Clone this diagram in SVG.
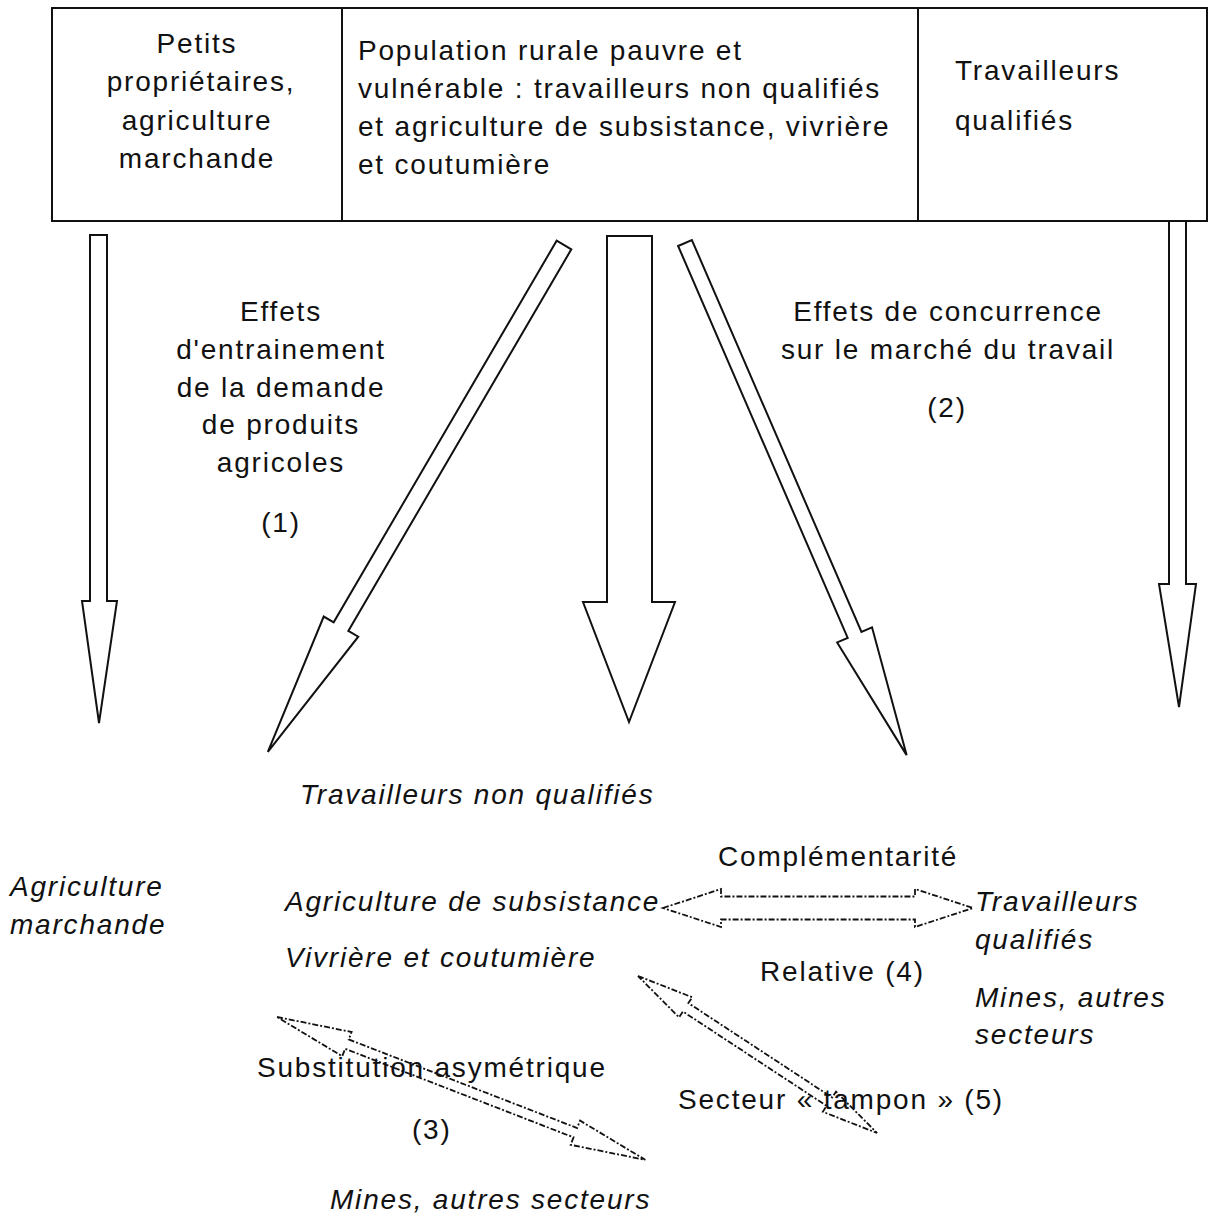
<svg xmlns="http://www.w3.org/2000/svg" width="1210" height="1222" viewBox="0 0 1210 1222">
  <style>
    .t { font-family: "Liberation Sans", Arial, sans-serif; font-size: 28px; letter-spacing: 1.8px; fill: #111; }
    .i { font-style: italic; }
    .m { text-anchor: middle; }
    .cell { fill: #fff; stroke: #111; stroke-width: 2; }
    .blk { fill: #fff; stroke: #111; stroke-width: 2; stroke-linejoin: miter; }
    .dbl { fill: none; stroke: #111; stroke-width: 1.8; stroke-dasharray: 6 2 2 2; }
  </style>
  <rect width="1210" height="1222" fill="#fff"/>

  <!-- header row: three population groups -->
  <g id="cell-petits">
    <rect class="cell" x="52" y="8" width="290" height="213"/>
    <text class="t m" x="197" y="53">Petits</text>
    <text class="t m" x="201" y="91">propriétaires,</text>
    <text class="t m" x="197" y="130">agriculture</text>
    <text class="t m" x="197" y="168">marchande</text>
  </g>
  <g id="cell-population">
    <rect class="cell" x="342" y="8" width="576" height="213"/>
    <text class="t" x="358" y="60">Population rurale pauvre et</text>
    <text class="t" x="358" y="98">vulnérable : travailleurs non qualifiés</text>
    <text class="t" x="358" y="136">et agriculture de subsistance, vivrière</text>
    <text class="t" x="358" y="174">et coutumière</text>
  </g>
  <g id="cell-qualifies">
    <rect class="cell" x="918" y="8" width="289" height="213"/>
    <text class="t" x="955" y="80">Travailleurs</text>
    <text class="t" x="955" y="130">qualifiés</text>
  </g>

  <!-- flows from the header to the sectors -->
  <g id="connectors">
    <polygon class="blk" points="90,235 107,235 107,601 117,601 99,723 82,601 90,601"/>
    <polygon class="blk" points="607,236 652,236 652,602 675,602 629,722 583,602 607,602"/>
    <polygon class="blk" points="1169,221 1186,221 1186,584 1196,584 1179,707 1159,584 1169,584"/>
    <g transform="translate(564,245) rotate(30.3)">
      <polygon class="blk" stroke-width="1.6" points="-8.5,0 8.5,0 8.5,442 20,442 0,587 -20,442 -8.5,442"/>
    </g>
    <g transform="translate(685,243) rotate(-23.4)">
      <polygon class="blk" stroke-width="1.6" points="-7.5,0 7.5,0 7.5,427 19,427 0,558 -19,427 -7.5,427"/>
    </g>

    <!-- two-way relations between the sectors -->
    <g transform="translate(663,908)">
      <polygon class="dbl" points="0,0 58,-19 58,-11.5 252,-11.5 252,-19 310,0 252,19 252,11.5 58,11.5 58,19"/>
    </g>
    <g transform="translate(277,1017) rotate(21.2)">
      <polygon class="dbl" points="0,0 75,-13 75,-5 320,-5 320,-13 395,0 320,13 320,5 75,5 75,13"/>
    </g>
    <g transform="translate(638,976) rotate(33.3)">
      <polygon class="dbl" points="0,0 57,-12 57,-5 229,-5 229,-12 286,0 229,12 229,5 57,5 57,12"/>
    </g>
  </g>

  <!-- flow labels -->
  <g id="label-entrainement">
    <text class="t m" x="281" y="321">Effets</text>
    <text class="t m" x="281" y="359">d'entrainement</text>
    <text class="t m" x="281" y="397">de la demande</text>
    <text class="t m" x="281" y="434">de produits</text>
    <text class="t m" x="281" y="472">agricoles</text>
    <text class="t m" x="281" y="532">(1)</text>
  </g>
  <g id="label-concurrence">
    <text class="t m" x="948" y="321">Effets de concurrence</text>
    <text class="t m" x="948" y="359">sur le marché du travail</text>
    <text class="t m" x="947" y="417">(2)</text>
  </g>

  <!-- sectors -->
  <g id="node-non-qualifies">
    <text class="t i" x="300" y="804">Travailleurs non qualifiés</text>
  </g>
  <g id="node-agri-marchande">
    <text class="t i" x="10" y="896">Agriculture</text>
    <text class="t i" x="10" y="934">marchande</text>
  </g>
  <g id="node-agri-subsistance">
    <text class="t i" x="285" y="911">Agriculture de subsistance</text>
    <text class="t i" x="285" y="967">Vivrière et coutumière</text>
  </g>
  <g id="node-qualifies">
    <text class="t i" x="975" y="911">Travailleurs</text>
    <text class="t i" x="975" y="949">qualifiés</text>
    <text class="t i" x="975" y="1007">Mines, autres</text>
    <text class="t i" x="975" y="1044">secteurs</text>
  </g>
  <g id="node-mines">
    <text class="t i" x="330" y="1209">Mines, autres secteurs</text>
  </g>

  <!-- relation labels -->
  <g id="label-complementarite">
    <text class="t" x="718" y="866">Complémentarité</text>
    <text class="t" x="760" y="981">Relative (4)</text>
  </g>
  <g id="label-substitution">
    <text class="t" x="257" y="1077">Substitution asymétrique</text>
    <text class="t" x="412" y="1139">(3)</text>
  </g>
  <g id="label-tampon">
    <text class="t" x="678" y="1109">Secteur « tampon » (5)</text>
  </g>
</svg>
